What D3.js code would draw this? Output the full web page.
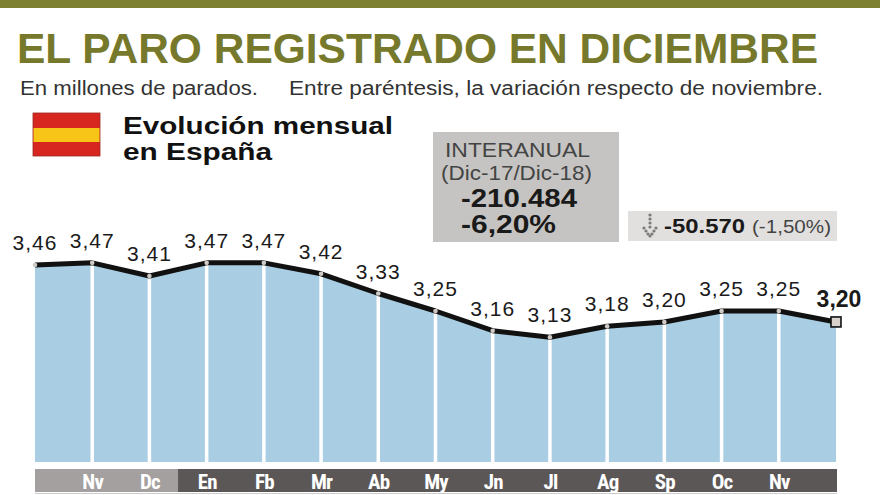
<!DOCTYPE html>
<html><head><meta charset="utf-8">
<script src="https://cdn.jsdelivr.net/npm/d3@7/dist/d3.min.js"></script>
<style>body{margin:0;background:#fff}svg{display:block}</style>
</head><body>
<svg id="c" width="880" height="495"></svg>
<script>
// ---- data ----
const months = ["Oc17","Nv17","Dc17","En18","Fb18","Mr18","Ab18","My18","Jn18","Jl18","Ag18","Sp18","Oc18","Nv18","Dc18"];
const values = [3.46,3.47,3.41,3.47,3.47,3.42,3.33,3.25,3.16,3.13,3.18,3.20,3.25,3.25,3.20];
const valueLabels = ["3,46","3,47","3,41","3,47","3,47","3,42","3,33","3,25","3,16","3,13","3,18","3,20","3,25","3,25","3,20"];
const tickLabels = ["","Nv","Dc","En","Fb","Mr","Ab","My","Jn","Jl","Ag","Sp","Oc","Nv",""];
const title = "EL PARO REGISTRADO EN DICIEMBRE";
const subtitle1 = "En millones de parados.";
const subtitle2 = "Entre paréntesis, la variación respecto de noviembre.";
const boxLines = ["INTERANUAL","(Dic-17/Dic-18)","-210.484","-6,20%"];
const monthlyChange = ["-50.570","(-1,50%)"];

const svg = d3.select("#c");
const F = "'Liberation Sans', Arial, Helvetica, sans-serif";

// top bar
svg.append("rect").attr("x",0).attr("y",0).attr("width",880).attr("height",8).attr("fill","#7d7f31");

// title
svg.append("text").attr("x",17).attr("y",63).text(title)
  .attr("font-family",F).attr("font-weight","bold").attr("font-size",42)
  .attr("fill","#76792c").attr("textLength",801).attr("lengthAdjust","spacingAndGlyphs");
svg.append("text").attr("x",20).attr("y",95).text(subtitle1)
  .attr("font-family",F).attr("font-size",20).attr("fill","#333")
  .attr("textLength",238).attr("lengthAdjust","spacingAndGlyphs");
svg.append("text").attr("x",289).attr("y",95).text(subtitle2)
  .attr("font-family",F).attr("font-size",20).attr("fill","#333")
  .attr("textLength",534).attr("lengthAdjust","spacingAndGlyphs");

// flag
const fg = svg.append("g");
fg.append("rect").attr("x",33).attr("y",113).attr("width",67).attr("height",43).attr("fill","#d7261f").attr("stroke","#9a2a22").attr("stroke-width",0.8);
fg.append("rect").attr("x",33.5).attr("y",128).attr("width",66).attr("height",14).attr("fill","#f6c518");
svg.append("text").attr("x",123).attr("y",134).text("Evolución mensual")
  .attr("font-family",F).attr("font-weight","bold").attr("font-size",23).attr("fill","#111")
  .attr("textLength",270).attr("lengthAdjust","spacingAndGlyphs");
svg.append("text").attr("x",123).attr("y",160).text("en España")
  .attr("font-family",F).attr("font-weight","bold").attr("font-size",23).attr("fill","#111")
  .attr("textLength",149).attr("lengthAdjust","spacingAndGlyphs");

// interanual box
svg.append("rect").attr("x",433).attr("y",132).attr("width",186).attr("height",110).attr("fill","#c6c4c2");
const bt = [
  {t:boxLines[0],x:445,y:157,s:21,w:"normal",l:145},
  {t:boxLines[1],x:441,y:180,s:21,w:"normal",l:151},
  {t:boxLines[2],x:461,y:207,s:25,w:"bold",l:116},
  {t:boxLines[3],x:461,y:233,s:25,w:"bold",l:95}
];
bt.forEach(d=>svg.append("text").attr("x",d.x).attr("y",d.y).text(d.t)
  .attr("font-family",F).attr("font-size",d.s).attr("font-weight",d.w).attr("fill",d.w==="bold"?"#1a1a1a":"#444")
  .attr("textLength",d.l).attr("lengthAdjust","spacingAndGlyphs"));

// monthly change box
svg.append("rect").attr("x",628).attr("y",211).attr("width",209).attr("height",30).attr("fill","#e2e0df");
const ar = svg.append("g").attr("fill","#7a7a7a");
[215,219,223,227].forEach(y=>ar.append("circle").attr("cx",650).attr("cy",y).attr("r",1.6));
[[644,228],[656,228],[646,231],[654,231],[648,234],[652,234],[650,236]].forEach(p=>ar.append("circle").attr("cx",p[0]).attr("cy",p[1]).attr("r",1.6));
svg.append("text").attr("x",664).attr("y",233).text(monthlyChange[0])
  .attr("font-family",F).attr("font-weight","bold").attr("font-size",20).attr("fill","#1a1a1a")
  .attr("textLength",81).attr("lengthAdjust","spacingAndGlyphs");
svg.append("text").attr("x",752).attr("y",233).text(monthlyChange[1])
  .attr("font-family",F).attr("font-size",19).attr("fill","#444")
  .attr("textLength",79).attr("lengthAdjust","spacingAndGlyphs");

// ---- chart ----
const x = d3.scalePoint().domain(d3.range(months.length)).range([35,836]);
const y = d3.scaleLinear().domain([2.56,3.5]).range([462,256.3]);
const data = values.map((v,i)=>({i,v}));

svg.append("path").datum(data)
  .attr("d",d3.area().x(d=>x(d.i)).y0(y(2.56)).y1(d=>y(d.v)))
  .attr("fill","#a9cde2");

// white separators
svg.append("g").selectAll("line").data(data.slice(1,-1)).join("line")
  .attr("x1",d=>x(d.i)).attr("x2",d=>x(d.i))
  .attr("y1",d=>y(d.v)).attr("y2",y(2.56))
  .attr("stroke","#fff").attr("stroke-width",3.5);

svg.append("path").datum(data)
  .attr("d",d3.line().x(d=>x(d.i)).y(d=>y(d.v)))
  .attr("fill","none").attr("stroke","#111").attr("stroke-width",5).attr("stroke-linejoin","round");

svg.append("g").selectAll("circle").data(data.slice(0,-1)).join("circle")
  .attr("cx",d=>x(d.i)).attr("cy",d=>y(d.v)).attr("r",2.3).attr("fill","#cfcac6");

const last = data[data.length-1];
svg.append("rect").attr("x",x(last.i)-5).attr("y",y(last.v)-5).attr("width",10).attr("height",10)
  .attr("fill","#d9d2cc").attr("stroke","#111").attr("stroke-width",1.6);

// value labels
svg.append("g").selectAll("text").data(data).join("text")
  .attr("x",d=>d.i===data.length-1 ? x(d.i)+3 : x(d.i))
  .attr("y",d=>y(d.v)-15)
  .attr("text-anchor","middle")
  .attr("font-family",F).attr("font-size",d=>d.i===data.length-1?23:21)
  .attr("font-weight",d=>d.i===data.length-1?"bold":"normal")
  .attr("letter-spacing",d=>d.i===data.length-1?0:1)
  .attr("fill","#1a1a1a")
  .text((d,i)=>valueLabels[i]);

// axis band
const split = (x(2)+x(3))/2;
svg.append("rect").attr("x",x(0)).attr("y",469).attr("width",split-x(0)).attr("height",23).attr("fill","#a3a09f");
svg.append("rect").attr("x",split).attr("y",469).attr("width",x(14)+1-split).attr("height",23).attr("fill","#5b5756");
svg.append("line").attr("x1",x(0)).attr("x2",x(14)+1).attr("y1",493.5).attr("y2",493.5).attr("stroke","#ccc").attr("stroke-width",1);

const axis = d3.axisBottom(x).tickSize(0).tickFormat(i=>tickLabels[i]);
const ag = svg.append("g").attr("transform","translate(0,469)").call(axis);
ag.select(".domain").remove();
ag.selectAll("text").attr("dy",0).attr("y",20)
  .attr("font-family","'Liberation Sans Narrow', 'Roboto Condensed', Arial, sans-serif")
  .attr("font-weight","bold").attr("font-size",21).attr("letter-spacing",-0.8).attr("fill","#fff");
</script>
</body></html>
